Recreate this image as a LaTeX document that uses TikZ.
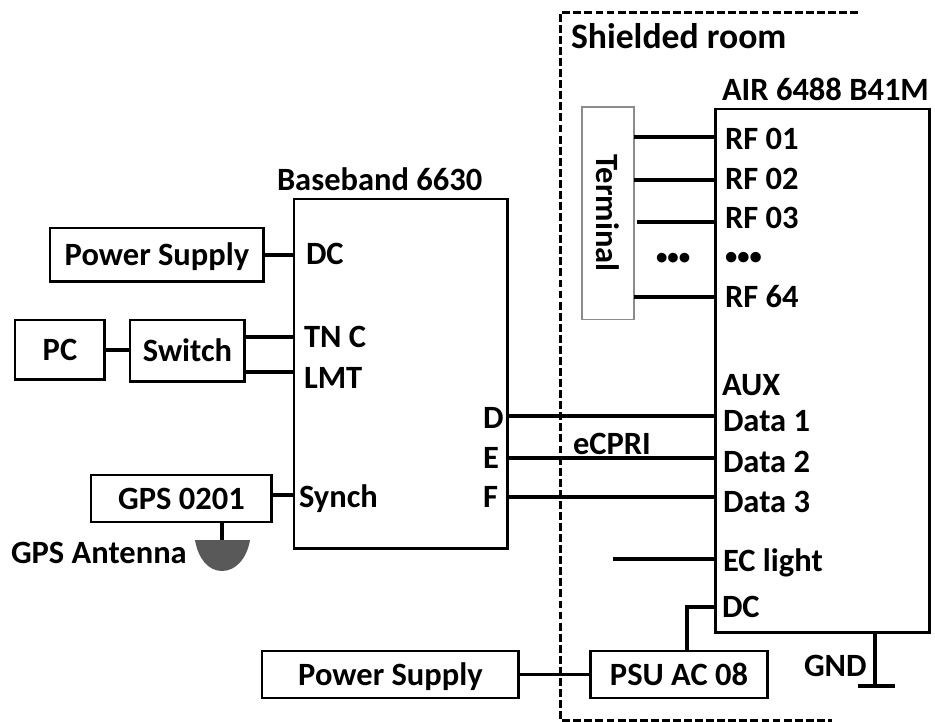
\documentclass[tikz,border=0pt]{standalone}
\usepackage{fontspec}
\setmainfont{Carlito}
\usepackage{xcolor}
\definecolor{antennaGray}{HTML}{595959}
\definecolor{terminalGray}{HTML}{8C8C8C}
\usetikzlibrary{positioning,calc}

\begin{document}
\begin{tikzpicture}[x=0.02cm, y=-0.02cm, font=\fontsize{18.5}{20}\selectfont\bfseries,
    box/.style={draw=black, line width=1.7pt, fill=white, inner sep=0pt, outer sep=0pt, anchor=north west, text height=14pt, text depth=1.6pt},
    port/.style={anchor=west, inner sep=0pt, outer sep=0pt, text height=14pt, text depth=1.6pt},
    conn/.style={draw=black, line width=2.2pt}]

    \useasboundingbox (0,0) rectangle (935,722);

    % --- Shielded room ---
    \coordinate (roomA) at (858,13);
    \coordinate (roomB) at (560,13);
    \coordinate (roomC) at (560,720);
    \coordinate (roomD) at (832,720);
    \draw[line width=1.7pt, dash pattern=on 4.5pt off 1.8pt] (roomA) -- (roomB) -- (roomC) -- (roomD);
    \node[port, font=\fontsize{20.3}{22}\selectfont\bfseries] (roomlabel) at (571,38) {Shielded room};

    % --- Boxes ---
    \node[box, minimum width=4.28cm, minimum height=7cm] (baseband) at (294,199) {};
    \node[box, minimum width=4.3cm, minimum height=10.48cm] (air) at (715,109) {};
    \node[box, minimum width=4.28cm, minimum height=1.08cm] (powerA) at (50,228) {Power Supply};
    \node[box, minimum width=1.8cm, minimum height=1.2cm] (pc) at (15,320) {PC};
    \node[box, minimum width=2.3cm, minimum height=1.24cm] (switch) at (130,320) {Switch};
    \node[box, minimum width=3.62cm, minimum height=0.94cm] (gps) at (91,475) {GPS 0201};
    \node[box, minimum width=5.14cm, minimum height=0.94cm] (powerB) at (262,651) {Power Supply};
    \node[box, minimum width=3.56cm, minimum height=0.94cm] (psu) at (590,651) {PSU AC 08};
    \node[box, draw=terminalGray, line width=0.6pt, minimum width=1.04cm, minimum height=4.26cm] (terminal) at (582,107) {};
    \node[rotate=-90, inner sep=0pt] (terminallabel) at (608,213) {Terminal};

    % --- Box titles ---
    \node[port] (basebandlabel) at (277,180) {Baseband 6630};
    \node[port] (airlabel) at (722,90) {AIR 6488 B41M};

    % --- Baseband ports ---
    \node[port] (bbdc) at (306,254) {DC};
    \node[port] (bbtnc) at (304,337) {TN C};
    \node[port] (bblmt) at (304,378) {LMT};
    \node[port] (bbsynch) at (299,497) {Synch};
    \node[port] (bbd) at (483,418) {D};
    \node[port] (bbe) at (483,458) {E};
    \node[port] (bbf) at (483,497) {F};

    % --- AIR ports ---
    \node[port] (rf1) at (725,139) {RF 01};
    \node[port] (rf2) at (725,179) {RF 02};
    \node[port] (rf3) at (725,218) {RF 03};
    \node[port, font=\fontsize{14}{16}\selectfont\bfseries] (rfdots) at (725,254) {•••};
    \node[port] (rf64) at (725,297) {RF 64};
    \node[port] (aux) at (722,385) {AUX};
    \node[port] (data1) at (723,421) {Data 1};
    \node[port] (data2) at (723,462) {Data 2};
    \node[port] (data3) at (723,502) {Data 3};
    \node[port] (eclight) at (723,561) {EC light};
    \node[port] (airdc) at (722,607) {DC};
    \node[port] (gndlabel) at (804,666) {GND};

    \node[port] (ecpri) at (573,444) {eCPRI};
    \node[port, font=\fontsize{13}{15}\selectfont\bfseries] (termdots) at (656,254) {•••};

    % --- Connector ends ---
    \coordinate (yrf1) at (715,137);
    \coordinate (yrf2) at (715,180);
    \coordinate (yrf3) at (715,222);
    \coordinate (yrf64) at (715,297);
    \coordinate (rf3end) at (637,222);
    \coordinate (ytnc) at (294,337);
    \coordinate (ylmt) at (294,372);
    \coordinate (ysynch) at (294,495);
    \coordinate (yd) at (508,416);
    \coordinate (ye) at (508,458);
    \coordinate (yf) at (508,497);
    \coordinate (ecend) at (613,559);
    \coordinate (yec) at (715,559);
    \coordinate (ydc) at (715,607);
    \coordinate (dcbend) at (687,607);
    \coordinate (gndtop) at (875,633);
    \coordinate (gndbase) at (875,686);
    \coordinate (gndleft) at (858,686);
    \coordinate (gndright) at (895,686);
    \coordinate (anttop) at (222,540);

    % --- Connectors, left side ---
    \draw[conn] (powerA.east) -- (powerA.east -| baseband.west);
    \draw[conn] (pc.east) -- (pc.east -| switch.west);
    \draw[conn] (switch.east |- ytnc) -- (ytnc);
    \draw[conn] (switch.east |- ylmt) -- (ylmt);
    \draw[conn] (gps.east |- ysynch) -- (ysynch);
    \draw[conn] (gps.south -| anttop) -- (anttop);

    % --- GPS antenna ---
    \fill[antennaGray] (195,540) -- (250,540) .. controls (247,558) and (236,571) .. (222,571) .. controls (208,571) and (198,558) .. (195,540) -- cycle;
    \node[port] (antlabel) at (11,553) {GPS Antenna};

    % --- Connectors, baseband to AIR ---
    \draw[conn] (yd) -- (yd -| air.west);
    \draw[conn] (ye) -- (ye -| air.west);
    \draw[conn] (yf) -- (yf -| air.west);

    % --- Connectors, terminal to AIR ---
    \draw[conn] (terminal.east |- yrf1) -- (yrf1);
    \draw[conn] (terminal.east |- yrf2) -- (yrf2);
    \draw[conn] (rf3end) -- (yrf3);
    \draw[conn] (terminal.east |- yrf64) -- (yrf64);

    % --- Power and ground ---
    \draw[conn] (ecend) -- (yec);
    \draw[conn] (powerB.east) -- (psu.west);
    \draw[conn] (psu.north -| dcbend) -- (dcbend) -- (ydc);
    \draw[conn] (gndtop) -- (gndbase);
    \draw[conn] (gndleft) -- (gndright);

\end{tikzpicture}
\end{document}
